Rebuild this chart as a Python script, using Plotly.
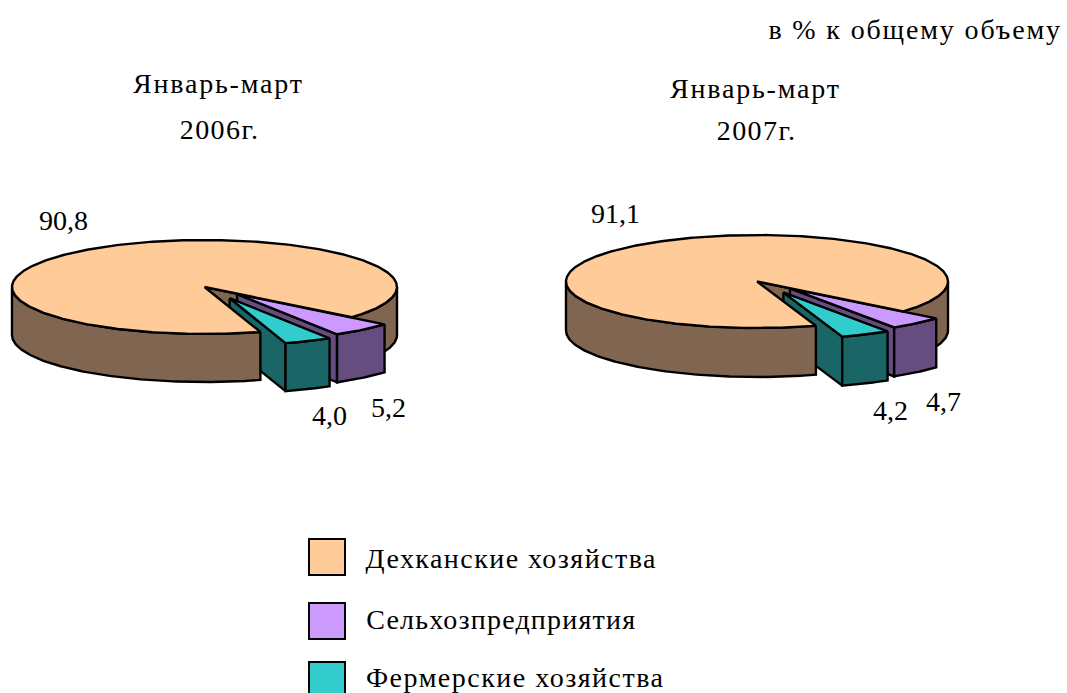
import json
import numpy as np
import plotly.graph_objects as go

W, H = 1067, 693
series_names = ["Дехканские хозяйства", "Сельхозпредприятия", "Фермерские хозяйства"]
values_2006 = [90.8, 5.2, 4.0]
values_2007 = [91.1, 4.7, 4.2]
labels_2006 = ["90,8", "5,2", "4,0"]
labels_2007 = ["91,1", "4,7", "4,2"]
title_lines = ["Январь-март", "2006г.", "Январь-март", "2007г."]
note = "в % к общему объему"

top_colors = ["#FFCC99", "#CC99FF", "#33CCCC"]
side_colors = ["#806650", "#664D80", "#1A6666"]
FONT = "Liberation Serif"
LW = 2.4
EXPLODE = {1: (0.26, 0.20), 2: (0.32, 0.26)}


def rim(c, rx, ry, t0, t1, dy=0.0, off=(0.0, 0.0)):
    t = np.radians(np.linspace(t0, t1, max(3, int(abs(t1 - t0) * 1.5))))
    return c[0] + off[0] + rx * np.cos(t), c[1] + off[1] + dy + ry * np.sin(t)


def poly(fig, x, y, color):
    fig.add_trace(go.Scatter(x=list(x) + [x[0]], y=list(y) + [y[0]], mode="lines", fill="toself",
                             fillcolor=color, line=dict(color="black", width=LW),
                             hoverinfo="skip", showlegend=False))


def wall(fig, c, rx, ry, d, t0, t1, color, off=(0.0, 0.0)):
    x, y = rim(c, rx, ry, t0, t1, 0, off)
    xb, yb = rim(c, rx, ry, t0, t1, d, off)
    poly(fig, np.r_[x, xb[::-1]], np.r_[y, yb[::-1]], color)


def face(fig, c, rx, ry, d, t, color, off=(0.0, 0.0)):
    x, y = rim(c, rx, ry, t, t, 0, off)
    px, py = c[0] + off[0], c[1] + off[1]
    poly(fig, [px, x[0], x[0], px], [py, y[0], y[0] + d, py + d], color)


def top(fig, c, rx, ry, t0, t1, color, off=(0.0, 0.0)):
    x, y = rim(c, rx, ry, t0, t1, 0, off)
    poly(fig, np.r_[c[0] + off[0], x], np.r_[c[1] + off[1], y], color)


def pie3d(fig, values, c, rx, ry, d, end_angle=40.0):
    total = sum(values)
    sweep = [v / total * 360 for v in values]
    t_a = end_angle
    t_b = t_a + sweep[1]
    t_c = t_b + sweep[2]
    # behind the exploded slices
    wall(fig, c, rx, ry, d, 0, t_a, side_colors[0])
    face(fig, c, rx, ry, d, t_a, side_colors[0])
    # exploded slices
    for i, (a, b) in zip((1, 2), ((t_a, t_b), (t_b, t_c))):
        mid = np.radians((a + b) / 2)
        ex, ey = EXPLODE[i]
        off = (ex * rx * np.cos(mid), ey * ry * np.sin(mid))
        face(fig, c, rx, ry, d, b, side_colors[i], off)
        wall(fig, c, rx, ry, d, a, b, side_colors[i], off)
        top(fig, c, rx, ry, a, b, top_colors[i], off)
    # in front of them
    wall(fig, c, rx, ry, d, t_c, 180, side_colors[0])
    top(fig, c, rx, ry, t_c, t_a + 360, top_colors[0])


fig = go.Figure()
pie3d(fig, values_2006, (204.5, 287), 192.5, 47, 48)
pie3d(fig, values_2007, (757, 281.5), 191, 46.5, 49)

# legend swatches
legend_y = [557, 621, 680]
for name, color, y in zip(series_names, top_colors, legend_y):
    fig.add_trace(go.Scatter(x=[327], y=[y], mode="markers", name=name, showlegend=False, hoverinfo="skip",
                             marker=dict(symbol="square", size=36, color=color, line=dict(color="black", width=2))))


def text(x, y, s, size=28):
    fig.add_annotation(x=x, y=y, text=s, showarrow=False, xanchor="center", yanchor="middle",
                       font=dict(family=FONT, size=size, color="black"))


for name, x, y in zip(series_names, [511.5, 501, 515.5], [558.5, 619.5, 677.5]):
    text(x, y, name)
text(915, 29, note)
for s, (x, y) in zip(title_lines, [(218, 83.5), (219, 129), (755.5, 88.5), (756, 130)]):
    text(x, y, s)
for s, (x, y) in zip(labels_2006, [(63, 220), (388, 407), (329, 415)]):
    text(x, y, s)
for s, (x, y) in zip(labels_2007, [(615, 213), (943, 401), (890, 410)]):
    text(x, y, s)

fig.update_layout(width=W, height=H, margin=dict(l=0, r=0, t=0, b=0), autosize=False,
                  paper_bgcolor="white", plot_bgcolor="white", showlegend=False,
                  xaxis=dict(range=[0, W], visible=False, fixedrange=True),
                  yaxis=dict(range=[H, 0], visible=False, fixedrange=True))

spacing = {series_names[0]: 1.45, series_names[1]: 1.2, series_names[2]: 1.5, note: 1.85,
           title_lines[0]: 1.8, title_lines[1]: 1.4, title_lines[3]: 1.4}
post = ("document.body.style.margin='0';document.body.style.overflow='hidden';"
        "var sp=" + json.dumps(spacing, ensure_ascii=False) + ";"
        "document.querySelectorAll('.annotation-text').forEach(function(t){"
        "var s=sp[t.textContent];if(s){t.style.letterSpacing=s+'px';}});")
fig.write_html("out.html", config=dict(displayModeBar=False), post_script=post)
